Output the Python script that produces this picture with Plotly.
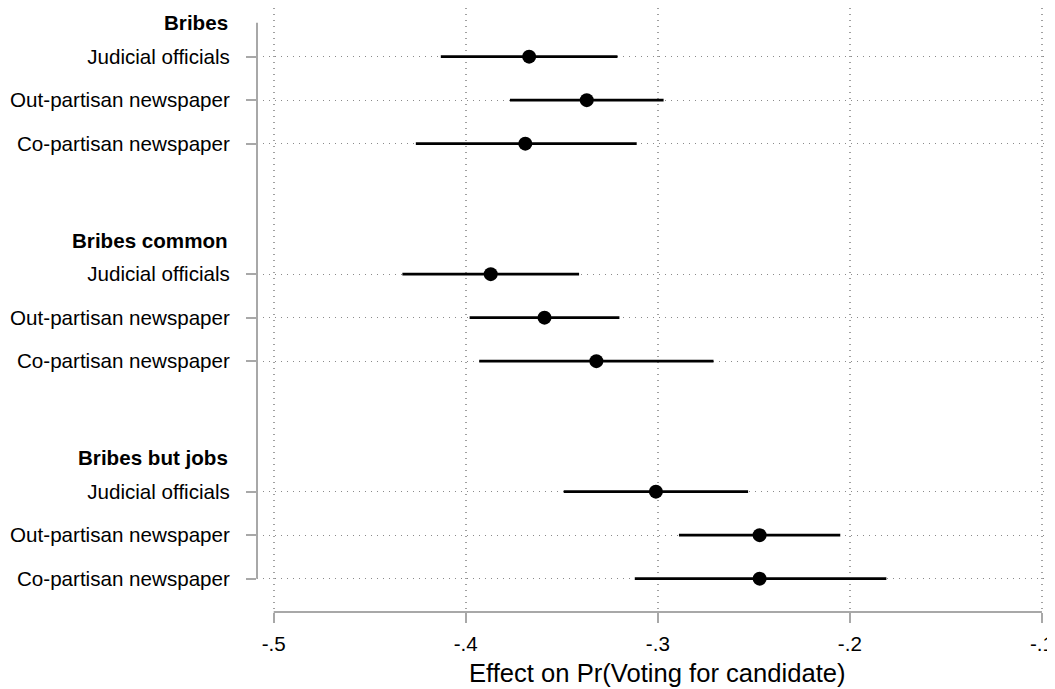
import plotly.graph_objects as go

# Coefficient plot: effect of corruption information on vote choice

groups = ['Bribes', 'Bribes common', 'Bribes but jobs']
sources = ['Judicial officials', 'Out-partisan newspaper', 'Co-partisan newspaper']

# point estimates and 95% CI, one list per group (order follows `sources`)
est_bribes = [-0.367, -0.337, -0.369]
lo_bribes = [-0.413, -0.377, -0.426]
hi_bribes = [-0.321, -0.297, -0.311]

est_common = [-0.387, -0.359, -0.332]
lo_common = [-0.433, -0.398, -0.393]
hi_common = [-0.341, -0.320, -0.271]

est_jobs = [-0.301, -0.247, -0.247]
lo_jobs = [-0.349, -0.289, -0.312]
hi_jobs = [-0.253, -0.205, -0.181]

x_ticks = [-0.5, -0.4, -0.3, -0.2, -0.1]
x_ticktext = ['-.5', '-.4', '-.3', '-.2', '-.1']

FONT = 'Liberation Sans, Arial, sans-serif'

est = est_bribes + est_common + est_jobs
lo = lo_bribes + lo_common + lo_jobs
hi = hi_bribes + hi_common + hi_jobs

# rows: 3 per group, two blank rows between groups
ypos = []
ylabels = []
header_pos = []
for g in range(len(groups)):
    header_pos.append(5 * g + 0.22)
    for r in range(len(sources)):
        ypos.append(5 * g + r + 1)
        ylabels.append(sources[r])

fig = go.Figure()

fig.add_trace(go.Scatter(
    x=est,
    y=ypos,
    mode='markers',
    marker=dict(color='black', size=14),
    error_x=dict(
        type='data',
        symmetric=False,
        array=[h - e for h, e in zip(hi, est)],
        arrayminus=[e - l for e, l in zip(est, lo)],
        color='black',
        thickness=2.6,
        width=0,
    ),
    showlegend=False,
    hoverinfo='skip',
))

for g, name in enumerate(groups):
    fig.add_annotation(
        x=0, xref='paper', xshift=-27, xanchor='right',
        y=header_pos[g], yref='y', yanchor='middle',
        text='<b>' + name + '</b>', showarrow=False,
        font=dict(family=FONT, size=20.6, color='black'),
    )

# axis lines only over the data span (Stata style)
fig.add_shape(type='line', xref='paper', yref='y', x0=0, x1=0,
              y0=header_pos[0], y1=ypos[-1],
              line=dict(color='#a8a8a8', width=2))
fig.add_shape(type='line', xref='x', yref='paper', x0=-0.5, x1=-0.1,
              y0=0, y1=0, line=dict(color='#a8a8a8', width=2))

fig.add_annotation(
    x=-0.3, xref='x', y=0, yref='paper', yshift=-61, yanchor='middle',
    text='Effect on Pr(Voting for candidate)', showarrow=False,
    font=dict(family=FONT, size=25.6, color='black'),
)

# page body adds an 8px offset, so the figure is 8px smaller than the window
fig.update_layout(
    width=1047,
    height=681,
    margin=dict(l=249, r=0, t=0, b=77),
    plot_bgcolor='white',
    paper_bgcolor='white',
    font=dict(family=FONT, size=20.6, color='black'),
)
fig.update_xaxes(
    range=[-0.5087, -0.0932],
    automargin=False,
    tickvals=x_ticks,
    ticktext=x_ticktext,
    ticks='outside',
    ticklen=10,
    tickwidth=2,
    tickcolor='#a8a8a8',
    ticklabelstandoff=3,
    ticklabeloverflow='allow',
    showline=False,
    zeroline=False,
    showgrid=True,
    gridcolor='#a0a0a0',
    gridwidth=1.6,
    griddash='1px,5px',
    tickfont=dict(size=20.6),
)
fig.update_yaxes(
    range=[13.767, -0.119],
    automargin=False,
    tickvals=ypos,
    ticktext=ylabels,
    ticks='outside',
    ticklen=10,
    tickwidth=2,
    tickcolor='#a8a8a8',
    ticklabelstandoff=12,
    showline=False,
    zeroline=False,
    showgrid=True,
    gridcolor='#8a8a8a',
    gridwidth=1,
    griddash='1px,5px',
    tickfont=dict(size=20.6),
)

fig.write_html('out.html')
